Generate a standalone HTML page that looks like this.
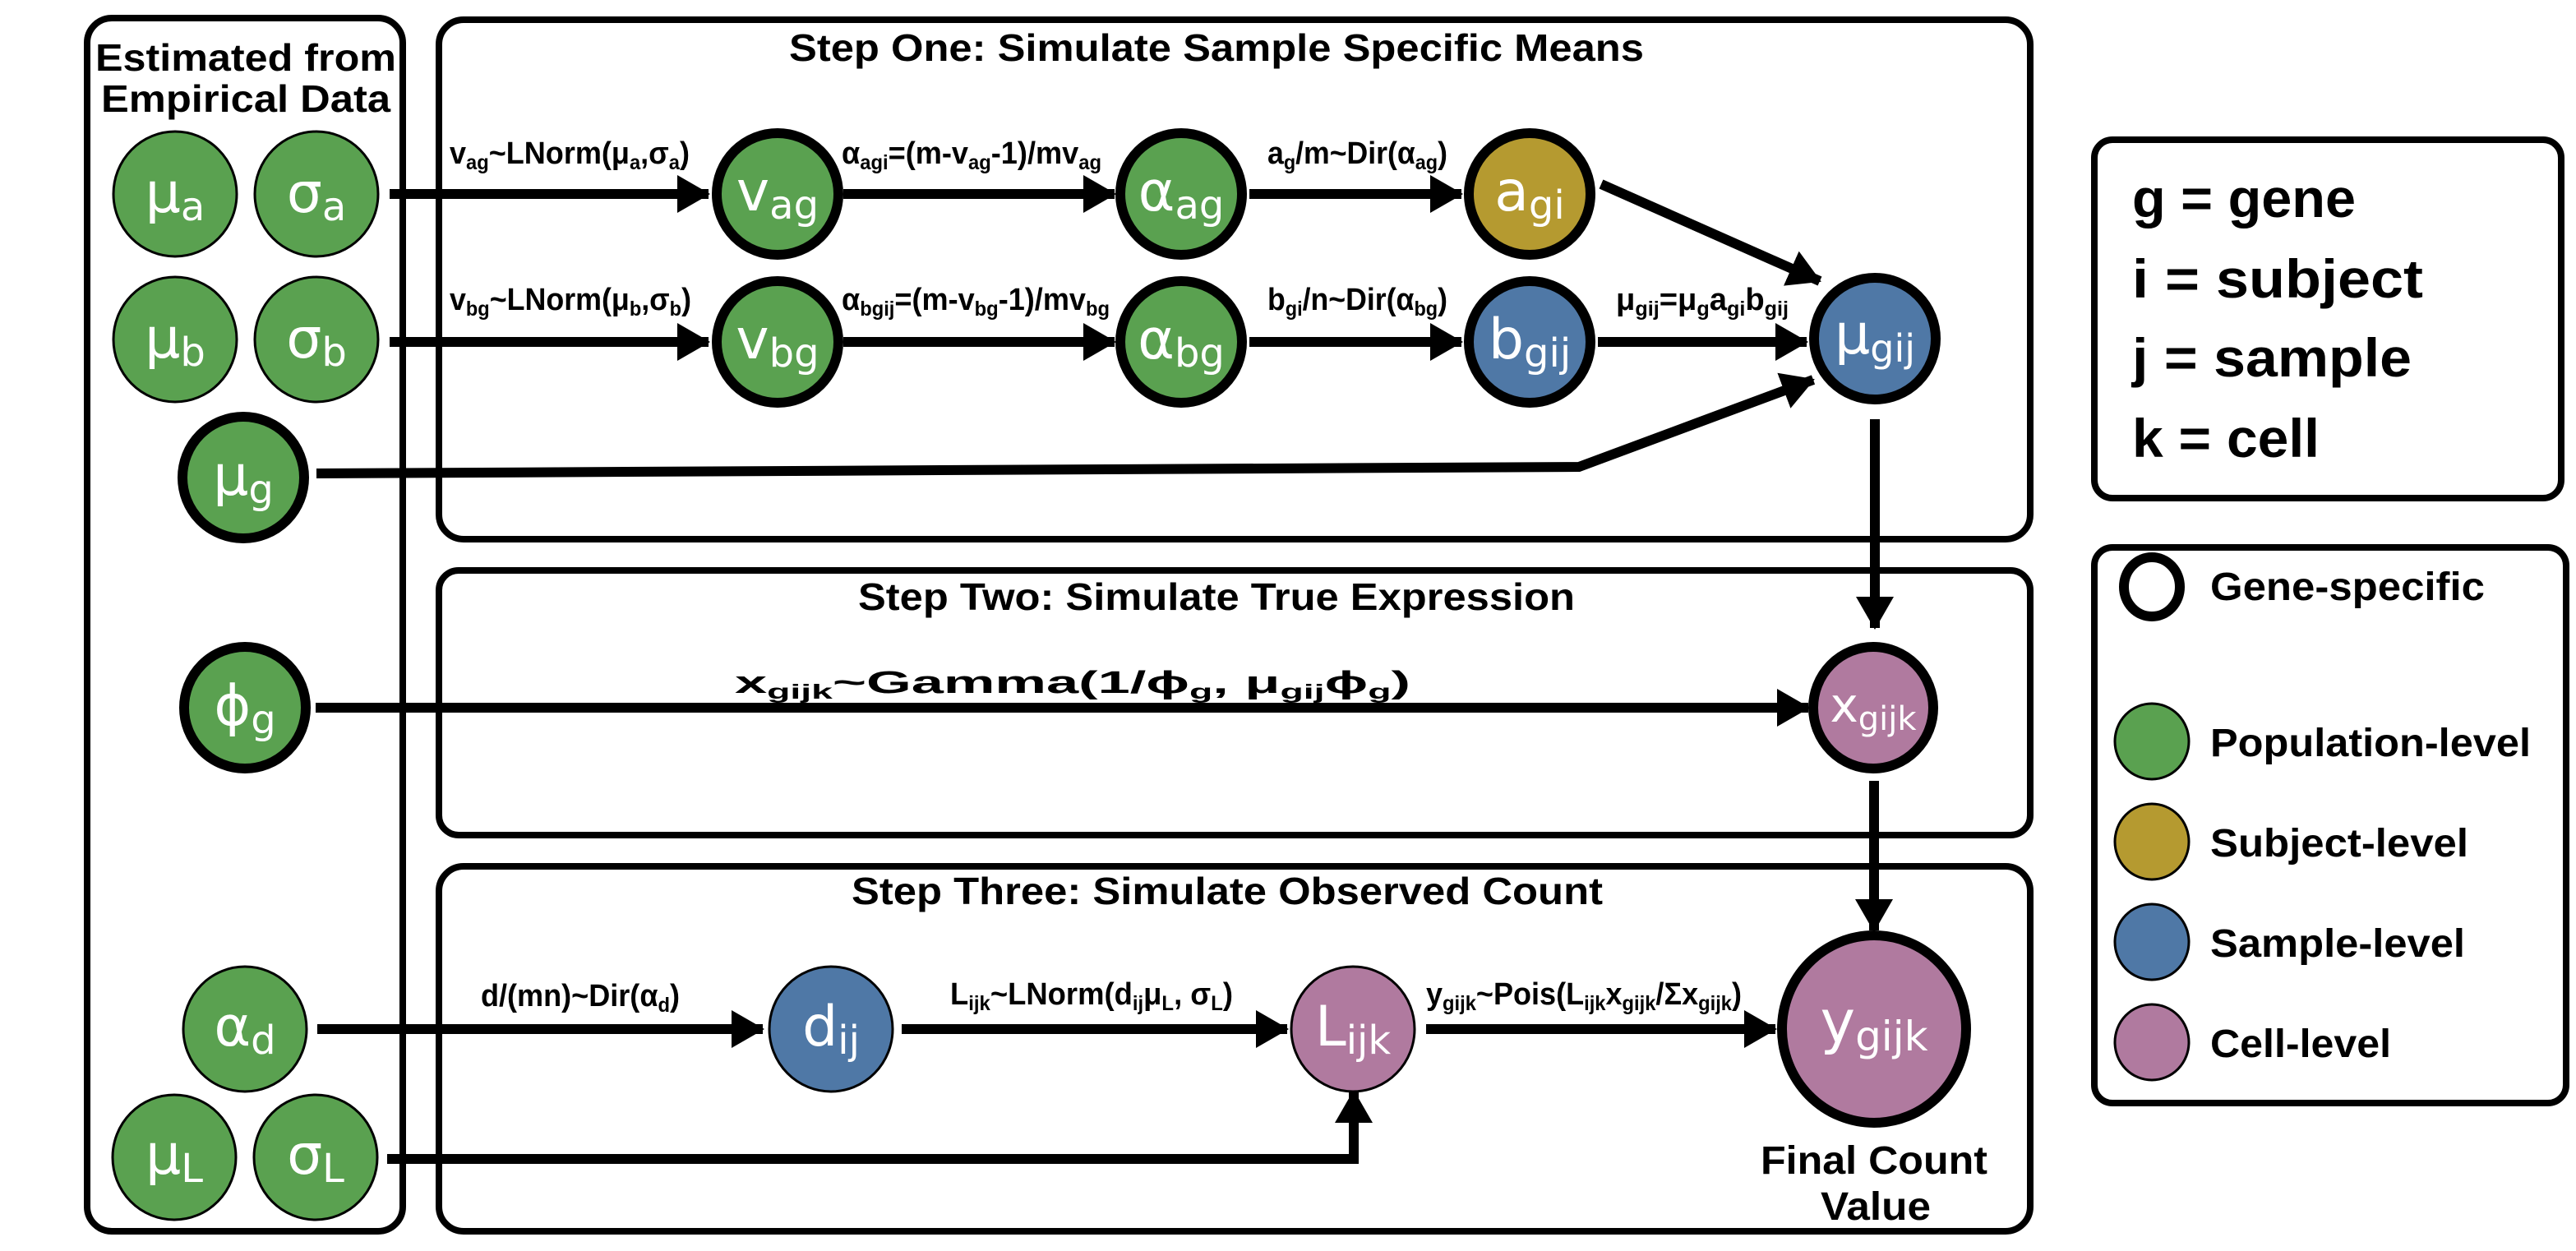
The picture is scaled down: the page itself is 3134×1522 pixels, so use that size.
<!DOCTYPE html>
<html><head><meta charset="utf-8"><style>
html,body{margin:0;padding:0;background:#fff}
svg{display:block}
.t{font-family:"Liberation Sans",sans-serif;font-weight:bold;fill:#000}
.n{font-family:"DejaVu Sans","Liberation Sans",sans-serif;fill:#fff}
</style></head><body>
<svg width="3134" height="1522" viewBox="0 0 3134 1522" xmlns="http://www.w3.org/2000/svg">
<defs>
<marker id="ah" markerUnits="userSpaceOnUse" markerWidth="40" markerHeight="46" refX="38" refY="23" orient="auto">
<path d="M0,0 L40,23 L0,46 Z" fill="#000"/>
</marker>
</defs>
<g fill="none" stroke="#000" stroke-width="8">
<rect x="106" y="22" width="384" height="1476" rx="30"/>
<rect x="534" y="24" width="1936" height="632" rx="30"/>
<rect x="534" y="694" width="1936" height="322" rx="24"/>
<rect x="534" y="1054" width="1936" height="444" rx="30"/>
<rect x="2548" y="170" width="568" height="436" rx="22"/>
<rect x="2548" y="666" width="574" height="676" rx="22"/>
</g>
<text class="t" x="299" y="86" font-size="46" text-anchor="middle" textLength="366" lengthAdjust="spacingAndGlyphs">Estimated from</text>
<text class="t" x="299" y="136" font-size="46" text-anchor="middle" textLength="352" lengthAdjust="spacingAndGlyphs">Empirical Data</text>
<text class="t" x="960" y="74" font-size="46" textLength="1040" lengthAdjust="spacingAndGlyphs">Step One: Simulate Sample Specific Means</text>
<text class="t" x="1044" y="742" font-size="46" textLength="872" lengthAdjust="spacingAndGlyphs">Step Two: Simulate True Expression</text>
<text class="t" x="1036" y="1100" font-size="46" textLength="914" lengthAdjust="spacingAndGlyphs">Step Three: Simulate Observed Count</text>
<text class="t" x="2280" y="1428" font-size="48" text-anchor="middle" textLength="276" lengthAdjust="spacingAndGlyphs">Final Count</text>
<text class="t" x="2282" y="1484" font-size="48" text-anchor="middle" textLength="134" lengthAdjust="spacingAndGlyphs">Value</text>
<g stroke="#000" stroke-width="12" fill="none" marker-end="url(#ah)">
<line x1="474" y1="236" x2="862" y2="236"/>
<line x1="1026" y1="236" x2="1356" y2="236"/>
<line x1="1520" y1="236" x2="1778" y2="236"/>
<line x1="1948" y1="224" x2="2214" y2="342"/>
<line x1="474" y1="416" x2="862" y2="416"/>
<line x1="1026" y1="416" x2="1356" y2="416"/>
<line x1="1520" y1="416" x2="1778" y2="416"/>
<line x1="1944" y1="416" x2="2198" y2="416"/>
<polyline points="385,576 1921,568 2206,462"/>
<line x1="2281" y1="510" x2="2281" y2="764"/>
<line x1="384" y1="861" x2="2200" y2="861"/>
<line x1="2280" y1="950" x2="2280" y2="1132"/>
<line x1="386" y1="1252" x2="928" y2="1252"/>
<line x1="1097" y1="1252" x2="1566" y2="1252"/>
<line x1="1735" y1="1252" x2="2160" y2="1252"/>
<polyline points="471,1410 1647,1410 1647,1328"/>
</g>
<g class="t" font-size="38">
<text x="547" y="199" textLength="292" lengthAdjust="spacingAndGlyphs">v<tspan font-size="25" dy="7">ag</tspan><tspan dy="-7">~LNorm(μ</tspan><tspan font-size="25" dy="7">a</tspan><tspan dy="-7">,σ</tspan><tspan font-size="25" dy="7">a</tspan><tspan dy="-7">)</tspan></text>
<text x="547" y="377" textLength="294" lengthAdjust="spacingAndGlyphs">v<tspan font-size="25" dy="7">bg</tspan><tspan dy="-7">~LNorm(μ</tspan><tspan font-size="25" dy="7">b</tspan><tspan dy="-7">,σ</tspan><tspan font-size="25" dy="7">b</tspan><tspan dy="-7">)</tspan></text>
<text x="1024" y="199" textLength="316" lengthAdjust="spacingAndGlyphs">α<tspan font-size="25" dy="7">agi</tspan><tspan dy="-7">=(m-v</tspan><tspan font-size="25" dy="7">ag</tspan><tspan dy="-7">-1)/mv</tspan><tspan font-size="25" dy="7">ag</tspan></text>
<text x="1024" y="377" textLength="326" lengthAdjust="spacingAndGlyphs">α<tspan font-size="25" dy="7">bgij</tspan><tspan dy="-7">=(m-v</tspan><tspan font-size="25" dy="7">bg</tspan><tspan dy="-7">-1)/mv</tspan><tspan font-size="25" dy="7">bg</tspan></text>
<text x="1542" y="199" textLength="219" lengthAdjust="spacingAndGlyphs">a<tspan font-size="25" dy="7">g</tspan><tspan dy="-7">/m~Dir(α</tspan><tspan font-size="25" dy="7">ag</tspan><tspan dy="-7">)</tspan></text>
<text x="1542" y="377" textLength="219" lengthAdjust="spacingAndGlyphs">b<tspan font-size="25" dy="7">gi</tspan><tspan dy="-7">/n~Dir(α</tspan><tspan font-size="25" dy="7">bg</tspan><tspan dy="-7">)</tspan></text>
<text x="1966" y="377" textLength="210" lengthAdjust="spacingAndGlyphs">μ<tspan font-size="25" dy="7">gij</tspan><tspan dy="-7">=μ</tspan><tspan font-size="25" dy="7">g</tspan><tspan dy="-7">a</tspan><tspan font-size="25" dy="7">gi</tspan><tspan dy="-7">b</tspan><tspan font-size="25" dy="7">gij</tspan></text>
<text x="894" y="843" textLength="822" lengthAdjust="spacingAndGlyphs">x<tspan font-size="25" dy="7">gijk</tspan><tspan dy="-7">~Gamma(1/ϕ</tspan><tspan font-size="25" dy="7">g</tspan><tspan dy="-7">, μ</tspan><tspan font-size="25" dy="7">gij</tspan><tspan dy="-7">ϕ</tspan><tspan font-size="25" dy="7">g</tspan><tspan dy="-7">)</tspan></text>
<text x="585" y="1224" textLength="242" lengthAdjust="spacingAndGlyphs">d/(mn)~Dir(α<tspan font-size="25" dy="7">d</tspan><tspan dy="-7">)</tspan></text>
<text x="1156" y="1222" textLength="344" lengthAdjust="spacingAndGlyphs">L<tspan font-size="25" dy="7">ijk</tspan><tspan dy="-7">~LNorm(d</tspan><tspan font-size="25" dy="7">ij</tspan><tspan dy="-7">μ</tspan><tspan font-size="25" dy="7">L</tspan><tspan dy="-7">, σ</tspan><tspan font-size="25" dy="7">L</tspan><tspan dy="-7">)</tspan></text>
<text x="1735" y="1222" textLength="384" lengthAdjust="spacingAndGlyphs">y<tspan font-size="25" dy="7">gijk</tspan><tspan dy="-7">~Pois(L</tspan><tspan font-size="25" dy="7">ijk</tspan><tspan dy="-7">x</tspan><tspan font-size="25" dy="7">gijk</tspan><tspan dy="-7">/Σx</tspan><tspan font-size="25" dy="7">gijk</tspan><tspan dy="-7">)</tspan></text>
</g>
<g stroke="#000" stroke-width="3">
<ellipse cx="213" cy="236" rx="75" ry="76" fill="#5aa150"/>
<ellipse cx="385" cy="236" rx="75" ry="76" fill="#5aa150"/>
<ellipse cx="213" cy="413" rx="75" ry="76" fill="#5aa150"/>
<ellipse cx="385" cy="413" rx="75" ry="76" fill="#5aa150"/>
<ellipse cx="298" cy="1252" rx="75" ry="76" fill="#5aa150"/>
<ellipse cx="212" cy="1408" rx="75" ry="76" fill="#5aa150"/>
<ellipse cx="384" cy="1408" rx="75" ry="76" fill="#5aa150"/>
<ellipse cx="1011" cy="1252" rx="75" ry="76" fill="#4f78a6"/>
<ellipse cx="1646" cy="1252" rx="75" ry="76" fill="#b07a9f"/>
<ellipse cx="2618" cy="902" rx="45" ry="46" fill="#5aa150"/>
<ellipse cx="2618" cy="1024" rx="45" ry="46" fill="#b59a30"/>
<ellipse cx="2618" cy="1146" rx="45" ry="46" fill="#4f78a6"/>
<ellipse cx="2618" cy="1268" rx="45" ry="46" fill="#b07a9f"/>
</g>
<g stroke="#000" stroke-width="12">
<ellipse cx="946" cy="236" rx="74" ry="74" fill="#5aa150"/>
<ellipse cx="946" cy="416" rx="74" ry="74" fill="#5aa150"/>
<ellipse cx="1437" cy="236" rx="74" ry="74" fill="#5aa150"/>
<ellipse cx="1437" cy="416" rx="74" ry="74" fill="#5aa150"/>
<ellipse cx="1861" cy="236" rx="74" ry="74" fill="#b59a30"/>
<ellipse cx="1861" cy="416" rx="74" ry="74" fill="#4f78a6"/>
<ellipse cx="2281" cy="412" rx="74" ry="74" fill="#4f78a6"/>
<ellipse cx="296" cy="581" rx="74" ry="74" fill="#5aa150"/>
<ellipse cx="298" cy="861" rx="74" ry="74" fill="#5aa150"/>
<ellipse cx="2279" cy="861" rx="73" ry="74" fill="#b07a9f"/>
<ellipse cx="2280" cy="1252" rx="112" ry="114" fill="#b07a9f"/>
<ellipse cx="2618" cy="714" rx="34" ry="36" fill="none" stroke-width="12"/>
</g>
<g class="n" font-size="68" text-anchor="middle">
<text x="213" y="258">μ<tspan font-size="48" dy="10">a</tspan></text>
<text x="385" y="258">σ<tspan font-size="48" dy="10">a</tspan></text>
<text x="213" y="435">μ<tspan font-size="48" dy="10">b</tspan></text>
<text x="385" y="435">σ<tspan font-size="48" dy="10">b</tspan></text>
<text x="296" y="602">μ<tspan font-size="48" dy="10">g</tspan></text>
<text x="298" y="882">ϕ<tspan font-size="48" dy="10">g</tspan></text>
<text x="298" y="1272">α<tspan font-size="48" dy="10">d</tspan></text>
<text x="212" y="1428">μ<tspan font-size="48" dy="10">L</tspan></text>
<text x="384" y="1428">σ<tspan font-size="48" dy="10">L</tspan></text>
<text x="1011" y="1272">d<tspan font-size="48" dy="10">ij</tspan></text>
<text x="1646" y="1272">L<tspan font-size="48" dy="10">ijk</tspan></text>
<text x="946" y="256">v<tspan font-size="48" dy="10">ag</tspan></text>
<text x="946" y="436">v<tspan font-size="48" dy="10">bg</tspan></text>
<text x="1437" y="256">α<tspan font-size="48" dy="10">ag</tspan></text>
<text x="1437" y="436">α<tspan font-size="48" dy="10">bg</tspan></text>
<text x="1861" y="256">a<tspan font-size="48" dy="10">gi</tspan></text>
<text x="1861" y="436">b<tspan font-size="48" dy="10">gij</tspan></text>
<text x="2281" y="430">μ<tspan font-size="46" dy="10">gij</tspan></text>
<text x="2279" y="878" font-size="58">x<tspan font-size="40" dy="10">gijk</tspan></text>
<text x="2280" y="1268" font-size="72">y<tspan font-size="50" dy="10">gijk</tspan></text>
</g>
<g class="t" font-size="66" font-family="DejaVu Sans, Liberation Sans, sans-serif">
<text x="2594" y="264" textLength="272" lengthAdjust="spacingAndGlyphs">g = gene</text>
<text x="2594" y="362" textLength="354" lengthAdjust="spacingAndGlyphs">i =  subject</text>
<text x="2594" y="458" textLength="340" lengthAdjust="spacingAndGlyphs">j = sample</text>
<text x="2594" y="556" textLength="228" lengthAdjust="spacingAndGlyphs">k = cell</text>
</g>
<g class="t" font-size="48">
<text x="2689" y="730" textLength="334" lengthAdjust="spacingAndGlyphs">Gene-specific</text>
<text x="2689" y="920" textLength="390" lengthAdjust="spacingAndGlyphs">Population-level</text>
<text x="2689" y="1042" textLength="314" lengthAdjust="spacingAndGlyphs">Subject-level</text>
<text x="2689" y="1164" textLength="310" lengthAdjust="spacingAndGlyphs">Sample-level</text>
<text x="2689" y="1286" textLength="220" lengthAdjust="spacingAndGlyphs">Cell-level</text>
</g>
</svg>
</body></html>
